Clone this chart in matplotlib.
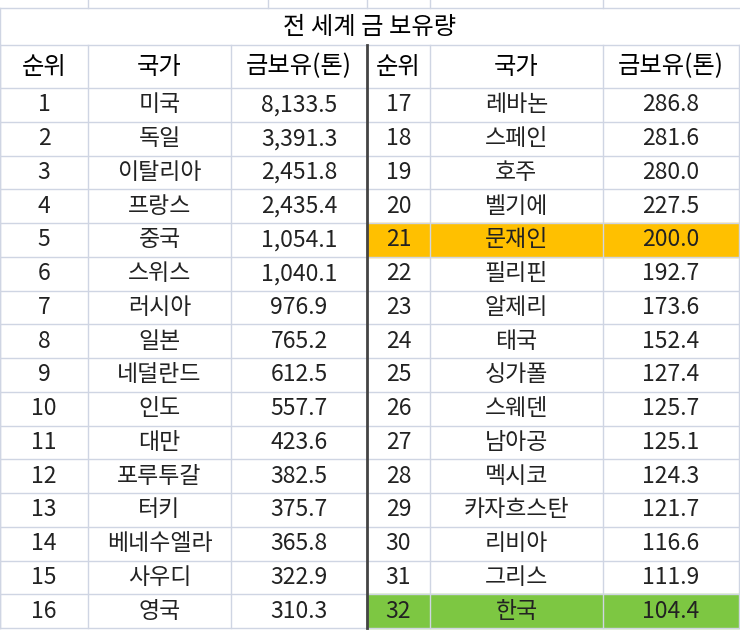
import matplotlib
matplotlib.use("Agg")
import matplotlib.pyplot as plt
from matplotlib.patches import Rectangle

plt.rcParams['font.family'] = ['Noto Sans CJK KR', 'DejaVu Sans']

title = "전 세계 금 보유량"
headers = ["순위", "국가", "금보유(톤)"]
ranks = list(range(1, 33))
countries = ["미국", "독일", "이탈리아", "프랑스", "중국", "스위스", "러시아", "일본",
             "네덜란드", "인도", "대만", "포루투갈", "터키", "베네수엘라", "사우디", "영국",
             "레바논", "스페인", "호주", "벨기에", "문재인", "필리핀", "알제리", "태국",
             "싱가폴", "스웨덴", "남아공", "멕시코", "카자흐스탄", "리비아", "그리스", "한국"]
gold = [8133.5, 3391.3, 2451.8, 2435.4, 1054.1, 1040.1, 976.9, 765.2,
        612.5, 557.7, 423.6, 382.5, 375.7, 365.8, 322.9, 310.3,
        286.8, 281.6, 280.0, 227.5, 200.0, 192.7, 173.6, 152.4,
        127.4, 125.7, 125.1, 124.3, 121.7, 116.6, 111.9, 104.4]
highlight = {21: "#FFC000", 32: "#7DC742"}

W, H = 740, 632
fig = plt.figure(figsize=(W/100, H/100), dpi=100)
ax = fig.add_axes([0, 0, 1, 1])
ax.set_xlim(0, W); ax.set_ylim(H, 0); ax.axis('off')

xe = [0, 88, 231, 367, 430, 603, 739]
grid = "#cfd5e3"
title_top, head_top, data_top, bottom = 8, 45, 88, 628
rh = (bottom - data_top) / 16
fs = 16.5

for x in [88, 268, 367, 430, 603]:
    ax.plot([x, x], [0, title_top], color=grid, lw=1)
ax.plot([0, W], [title_top, title_top], color=grid, lw=1)
ax.text(W/2, (title_top+head_top)/2, title, ha='center', va='center', fontsize=17.5)
ax.plot([0, W], [head_top, head_top], color=grid, lw=1)

def row_y(i):
    return data_top + i*rh

for half in range(2):
    xs = xe[half*3:half*3+4]
    for c in range(3):
        ax.text((xs[c]+xs[c+1])/2, (head_top+data_top)/2, headers[c], ha='center', va='center', fontsize=17.5)
    for i in range(16):
        k = half*16 + i
        y0 = row_y(i)
        col = highlight.get(ranks[k])
        if col:
            ax.add_patch(Rectangle((xs[0], y0), xs[3]-xs[0], rh, color=col, zorder=0))
        vals = [str(ranks[k]), countries[k], f"{gold[k]:,.1f}"]
        for c in range(3):
            ax.text((xs[c]+xs[c+1])/2, y0+rh/2, vals[c], ha='center', va='center', fontsize=fs, color="#222222")

for i in range(17):
    ax.plot([0, W], [row_y(i), row_y(i)], color=grid, lw=1, zorder=1)
for x in xe:
    lw, colr = (2, "#444444") if x == 367 else (1, grid)
    ax.plot([x, x], [head_top, bottom], color=colr, lw=lw, zorder=2)
ax.plot([0, 0], [title_top, bottom], color=grid, lw=1)

fig.savefig("out.png", dpi=100)
